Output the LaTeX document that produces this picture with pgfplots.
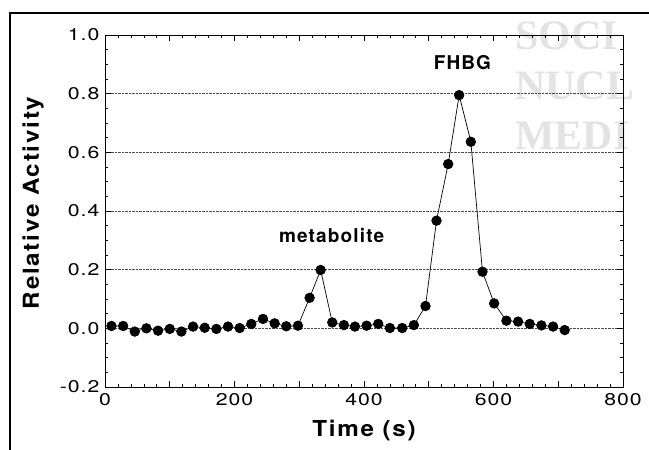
\documentclass[border=0pt]{standalone}
\usepackage{fontspec}
\setmainfont{TeX Gyre Heros}
\newfontfamily\tickfont[FakeStretch=1.25,LetterSpace=6]{TeX Gyre Heros}
\newfontfamily\labfont[FakeStretch=1.1,LetterSpace=8]{TeX Gyre Heros}
\newfontfamily\annfont[LetterSpace=6]{TeX Gyre Heros}
\newfontfamily\wmfont{Liberation Serif}
\usepackage{pgfplots}
\pgfplotsset{compat=1.18}

\begin{document}
\begin{tikzpicture}
\useasboundingbox (-105pt,-63pt) rectangle (544pt,387pt);
% faint watermark behind the plot
\begin{scope}[every node/.style={anchor=base west, inner sep=0pt, text=black!11,
  font=\wmfont\bfseries\fontsize{42}{46}\selectfont}]
\node at (410pt,337pt) {SOCI};
\node at (410pt,287pt) {NUCL};
\node at (410pt,237pt) {MEDI};
\end{scope}
\draw[line width=1.6pt] (-95pt,-63pt) -- (-95pt,374pt) -- (544pt,374pt);

\begin{axis}[
  at={(0pt,0pt)}, anchor=south west,
  scale only axis,
  width=518pt, height=352pt,
  xmin=0, xmax=800, ymin=-0.2, ymax=1.0,
  xtick={0,100,...,800},
  xticklabels={0,,200,,400,,600,,800},
  ytick={-0.2,0,0.2,0.4,0.6,0.8,1.0},
  yticklabels={-0.2,0.0,0.2,0.4,0.6,0.8,1.0},
  minor x tick num=4,
  minor y tick num=3,
  tick align=inside,
  tick pos=both,
  major tick length=6pt,
  minor tick length=3pt,
  ymajorgrids,
  grid style={densely dotted, black!70, line width=0.5pt},
  axis line style={line width=0.9pt},
  every tick/.style={black, line width=0.6pt},
  ticklabel style={font=\tickfont\fontsize{17}{19}\selectfont},
  yticklabel style={xshift=-2pt},
  xticklabel style={yshift=-3pt},
  xlabel={\bfseries Time (s)},
  ylabel={\bfseries Relative Activity},
  label style={font=\labfont\fontsize{22}{26}\selectfont},
  xlabel style={at={(axis description cs:0.5,-0.125)}, anchor=center},
  ylabel style={at={(axis description cs:-0.139,0.523)}, anchor=center},
]
\addplot[black, line width=0.7pt, mark=*, mark size=4.8pt, mark options={fill=black}]
coordinates {
  (10,0.008) (28,0.008) (46,-0.011) (64,0.000) (82,-0.008)
  (100,-0.002) (118,-0.011) (136,0.006) (154,0.002) (172,-0.002)
  (190,0.006) (208,0.001) (226,0.015) (244,0.032) (262,0.017)
  (280,0.007) (298,0.009) (316,0.104) (333,0.199) (351,0.020)
  (369,0.011) (386,0.006) (404,0.009) (422,0.015) (440,0.001)
  (459,0.001) (477,0.011) (495,0.076) (512,0.367) (530,0.560)
  (547,0.795) (565,0.636) (583,0.193) (601,0.085) (620,0.026)
  (638,0.023) (656,0.015) (674,0.010) (692,0.006) (710,-0.006)
};
\node[font=\annfont\bfseries\fontsize{19}{21}\selectfont, anchor=base]
  at (axis cs:350,0.291) {metabolite};
\node[font=\annfont\bfseries\fontsize{19}{21}\selectfont, anchor=base]
  at (axis cs:552,0.883) {FHBG};
\end{axis}
\end{tikzpicture}
\end{document}
